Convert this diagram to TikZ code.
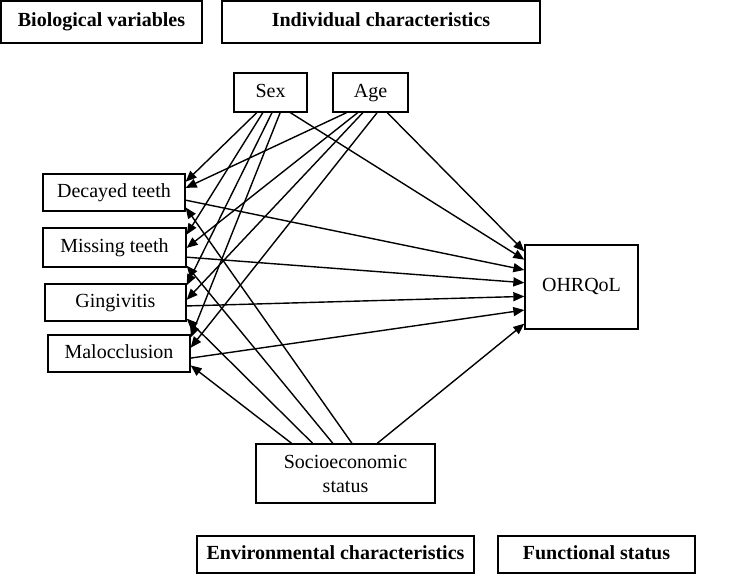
\documentclass[tikz,border=0pt]{standalone}
\usepackage{fontspec}
\setmainfont{Liberation Serif}
\usetikzlibrary{arrows.meta,calc}
\begin{document}
\begin{tikzpicture}[x=1pt,y=-1pt,
  font=\fontsize{20}{24}\selectfont,
  box/.style={draw,line width=1.3pt,inner sep=0pt,align=center,text height=14pt,text depth=4.5pt},
  hbox/.style={box,font=\fontsize{20}{24}\selectfont\bfseries},
  arr/.style={line width=1.4pt,-{Triangle[length=11pt,width=9pt]}}]
\useasboundingbox (0,0) rectangle (729,580);
% headings
\node[hbox,minimum width=201pt,minimum height=42pt] (bio) at (101.5,22) {Biological variables};
\node[hbox,minimum width=318pt,minimum height=42pt] (ind) at (381,22) {Individual characteristics};
\node[hbox,minimum width=277pt,minimum height=37pt] (env) at (335.5,554.5) {Environmental characteristics};
\node[hbox,minimum width=197pt,minimum height=37pt] (fun) at (596.5,554.5) {Functional status};
% variables
\node[box,minimum width=73pt,minimum height=39pt] (sex) at (270.5,92.5) {Sex};
\node[box,minimum width=75pt,minimum height=39pt] (age) at (370.5,92.5) {Age};
\node[box,minimum width=142pt,minimum height=37pt] (dec) at (114,192.5) {Decayed teeth};
\node[box,minimum width=143pt,minimum height=39pt] (mis) at (114.5,247.5) {Missing teeth};
\node[box,minimum width=141pt,minimum height=37pt] (gin) at (115.5,302.5) {Gingivitis};
\node[box,minimum width=142pt,minimum height=37pt] (mal) at (119,353.5) {Malocclusion};
\node[box,minimum width=179pt,minimum height=59pt,text height=,text depth=] (ses) at (345.5,473.5) {Socioeconomic\\status};
\node[box,minimum width=113pt,minimum height=84pt] (ohr) at (581.5,287) {OHRQoL};
% Sex -> biological
\draw[arr] ($(sex.south west)!0.315!(sex.south east)$) -- ($(dec.north east)!0.22!(dec.south east)$);
\draw[arr] ($(sex.south west)!0.397!(sex.south east)$) -- ($(mis.north east)!0.18!(mis.south east)$);
\draw[arr] ($(sex.south west)!0.52!(sex.south east)$) -- ($(gin.north east)!0.05!(gin.south east)$);
\draw[arr] ($(sex.south west)!0.63!(sex.south east)$) -- ($(mal.north east)!0.08!(mal.south east)$);
% Age -> biological
\draw[arr] ($(age.south west)!0.187!(age.south east)$) -- ($(dec.north east)!0.38!(dec.south east)$);
\draw[arr] ($(age.south west)!0.333!(age.south east)$) -- ($(mis.north east)!0.51!(mis.south east)$);
\draw[arr] ($(age.south west)!0.4!(age.south east)$) -- ($(gin.north east)!0.43!(gin.south east)$);
\draw[arr] ($(age.south west)!0.587!(age.south east)$) -- ($(mal.north east)!0.35!(mal.south east)$);
% SES -> biological
\draw[arr] ($(ses.north west)!0.536!(ses.north east)$) -- ($(dec.north east)!0.89!(dec.south east)$);
\draw[arr] ($(ses.north west)!0.43!(ses.north east)$) -- ($(mis.north east)!0.95!(mis.south east)$);
\draw[arr] ($(ses.north west)!0.318!(ses.north east)$) -- ($(gin.north east)!0.92!(gin.south east)$);
\draw[arr] ($(ses.north west)!0.201!(ses.north east)$) -- ($(mal.north east)!0.81!(mal.south east)$);
% -> OHRQoL
\draw[arr] ($(age.south west)!0.72!(age.south east)$) -- ($(ohr.north west)!0.083!(ohr.south west)$);
\draw[arr] ($(sex.south west)!0.767!(sex.south east)$) -- ($(ohr.north west)!0.18!(ohr.south west)$);
\draw[arr] ($(dec.north east)!0.70!(dec.south east)$) -- ($(ohr.north west)!0.30!(ohr.south west)$);
\draw[arr] ($(mis.north east)!0.74!(mis.south east)$) -- ($(ohr.north west)!0.45!(ohr.south west)$);
\draw[arr] ($(gin.north east)!0.59!(gin.south east)$) -- ($(ohr.north west)!0.61!(ohr.south west)$);
\draw[arr] ($(mal.north east)!0.62!(mal.south east)$) -- ($(ohr.north west)!0.77!(ohr.south west)$);
\draw[arr] ($(ses.north west)!0.676!(ses.north east)$) -- ($(ohr.north west)!0.93!(ohr.south west)$);
\end{tikzpicture}
\end{document}
